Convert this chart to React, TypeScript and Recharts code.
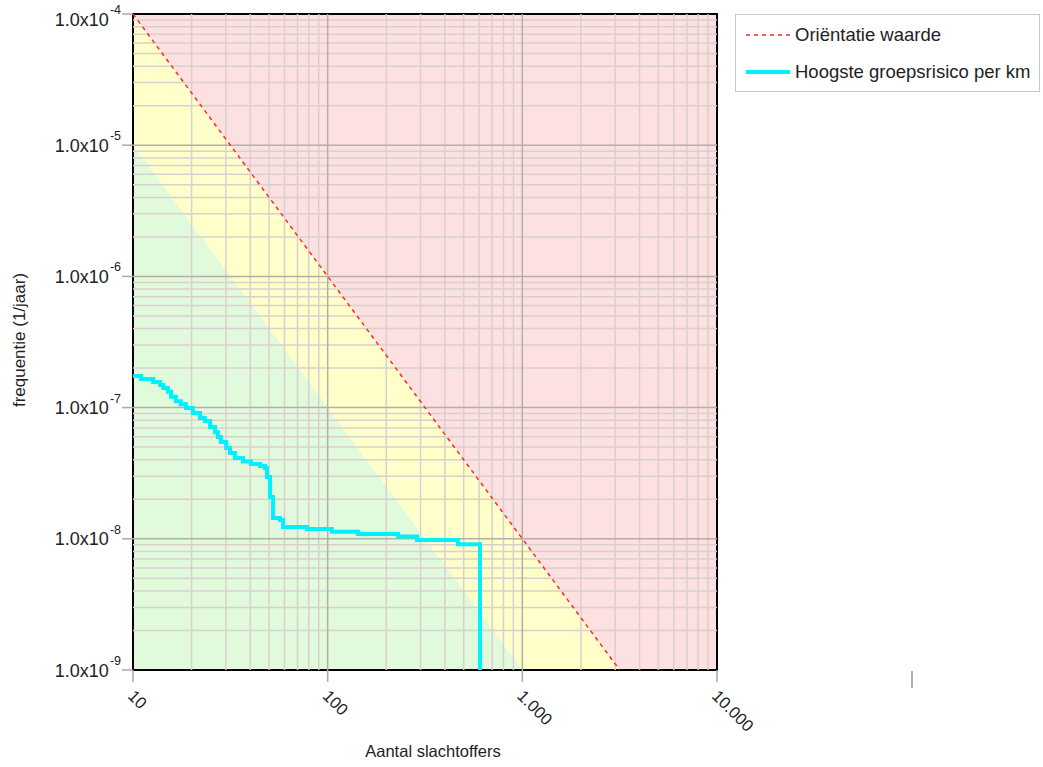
import React from 'react';
import { ComposedChart, Area, Line, XAxis, YAxis, ReferenceLine, ReferenceArea, Label } from 'recharts';

// ---- data ----
const riskN = [10, 11, 12.7, 13.8, 14.3, 15.1, 15.7, 16.6, 17.6, 18.7, 20.3, 22.1, 23.4, 24.9, 26.4, 27.3, 28.3, 30.1, 31.5, 33.4, 36.7, 40.4, 44.9, 47.6, 48.8, 50.6, 52.4, 56.9, 59, 78.4, 105, 143, 230, 288, 467, 606];
const riskF = [1.74e-7, 1.65e-7, 1.57e-7, 1.49e-7, 1.41e-7, 1.32e-7, 1.21e-7, 1.12e-7, 1.06e-7, 9.93e-8, 9.1e-8, 8.34e-8, 7.9e-8, 7.1e-8, 6.5e-8, 5.97e-8, 5.47e-8, 4.92e-8, 4.51e-8, 4.13e-8, 3.88e-8, 3.71e-8, 3.59e-8, 3.47e-8, 2.96e-8, 2.08e-8, 1.44e-8, 1.39e-8, 1.23e-8, 1.19e-8, 1.13e-8, 1.09e-8, 1.04e-8, 9.8e-9, 9.1e-9, 1e-9];
const orientN = [10, 3162.28];
const orientF = [1e-4, 1e-9];
const greenN = [10, 1000];
const greenF = [1e-5, 1e-9];
const pinkN = [10, 10000];
const pinkF = [1e-4, 1e-4];

const xTicks = [10, 100, 1000, 10000];
const xTickLabels = ['10', '100', '1.000', '10.000'];
const yTicks = [1e-9, 1e-8, 1e-7, 1e-6, 1e-5, 1e-4];
const xMinor = [20, 30, 40, 50, 60, 70, 80, 90, 200, 300, 400, 500, 600, 700, 800, 900, 2000, 3000, 4000, 5000, 6000, 7000, 8000, 9000];
const xMajor = [100, 1000];
const yMajor = [1e-8, 1e-7, 1e-6, 1e-5];
const yMinorMult = [2, 3, 4, 5, 6, 7, 8, 9];
const yDecades = [1e-9, 1e-8, 1e-7, 1e-6, 1e-5];

const seriesNames = ['Oriëntatie waarde', 'Hoogste groepsrisico per km'];
const xTitle = 'Aantal slachtoffers';
const yTitle = 'frequentie (1/jaar)';

const FONT = '"Liberation Sans", Arial, sans-serif';
const C_PINK = '#fde1e1';
const C_YELLOW = '#ffffca';
const C_GREEN = '#e1fadc';
const C_MINOR = '#dacfcf';
const C_MAJOR = '#b6aea6';
const C_RED = '#ff2a2a';
const C_CYAN = '#00f0ff';

const yMinor: number[] = [];
yDecades.forEach((d) => yMinorMult.forEach((m) => yMinor.push(d * m)));

const allN = Array.from(new Set([...riskN, ...orientN, ...greenN, ...pinkN])).sort((a, b) => a - b);
const pick = (ns: number[], fs: number[], n: number) => {
  const i = ns.indexOf(n);
  return i >= 0 ? fs[i] : null;
};
const data = allN.map((n) => ({
  n,
  risk: pick(riskN, riskF, n),
  orient: pick(orientN, orientF, n),
  green: pick(greenN, greenF, n),
  pink: pick(pinkN, pinkF, n),
}));

const XTick = (props: any) => {
  const { x, y, payload } = props;
  const label = xTickLabels[xTicks.indexOf(payload.value)];
  const ax = x - 6;
  const ay = y + 13;
  return (
    <text x={ax} y={ay} transform={`rotate(45, ${ax}, ${ay})`} textAnchor="start" fontFamily={FONT} fontSize={16.5} fill="#222">
      {label}
    </text>
  );
};

const YTick = (props: any) => {
  const { x, y, payload } = props;
  const exp = Math.round(Math.log10(payload.value));
  // keep the topmost label inside the picture
  const shift = exp === -4 ? 5 : 0;
  return (
    <text x={x + 1} y={y + 6.5 + shift} textAnchor="end" fontFamily={FONT} fill="#222">
      <tspan fontSize={18}>1.0x10</tspan>
      <tspan fontSize={12.5} dy={-11.5} dx={1}>{`${exp}`}</tspan>
    </text>
  );
};

export default function App() {
  return (
    <div style={{ position: 'absolute', left: 0, top: 0, width: 1043, height: 767, background: '#fff' }}>
      <div style={{ position: 'absolute', left: 0, top: 0 }}>
        <ComposedChart width={1043} height={767} data={data} margin={{ top: 14, right: 326, bottom: 37, left: 0 }}>
          <XAxis
            dataKey="n"
            type="number"
            scale="log"
            domain={[10, 10000]}
            ticks={xTicks}
            allowDataOverflow
            interval={0}
            height={60}
            tickSize={12}
            axisLine={false}
            tickLine={{ stroke: '#a9a9a9', strokeWidth: 1.5 }}
            tick={<XTick />}
          >
            <Label
              content={(p: any) => {
                const vb = p.viewBox || { x: 133, y: 670, width: 584 };
                return (
                  <text x={vb.x + vb.width / 2 + 8} y={vb.y + 87} textAnchor="middle" fontFamily={FONT} fontSize={16.5} fill="#222">
                    {xTitle}
                  </text>
                );
              }}
            />
          </XAxis>
          <YAxis
            type="number"
            scale="log"
            domain={[1e-9, 1e-4]}
            ticks={yTicks}
            allowDataOverflow
            interval={0}
            width={133}
            tickSize={11}
            axisLine={false}
            tickLine={{ stroke: '#a9a9a9', strokeWidth: 1.5 }}
            tick={<YTick />}
          >
            <Label
              content={(p: any) => {
                const vb = p.viewBox || { x: 0, y: 14, height: 656 };
                const cx = vb.x + 19;
                const cy = vb.y + vb.height / 2 - 2;
                return (
                  <text x={cx} y={cy} transform={`rotate(-90, ${cx}, ${cy})`} textAnchor="middle" dominantBaseline="central" fontFamily={FONT} fontSize={17} fill="#222">
                    {yTitle}
                  </text>
                );
              }}
            />
          </YAxis>

          <Area dataKey="pink" type="linear" baseValue={1e-9} fill={C_PINK} fillOpacity={1} stroke="none" connectNulls isAnimationActive={false} dot={false} activeDot={false} />
          <Area dataKey="orient" type="linear" baseValue={1e-9} fill={C_YELLOW} fillOpacity={1} stroke="none" connectNulls isAnimationActive={false} dot={false} activeDot={false} />
          <Area dataKey="green" type="linear" baseValue={1e-9} fill={C_GREEN} fillOpacity={1} stroke="none" connectNulls isAnimationActive={false} dot={false} activeDot={false} />

          {xMinor.map((v) => (
            <ReferenceLine key={`xm${v}`} x={v} stroke={C_MINOR} strokeWidth={1.5} />
          ))}
          {yMinor.map((v) => (
            <ReferenceLine key={`ym${v}`} y={v} stroke={C_MINOR} strokeWidth={1.5} />
          ))}
          {xMajor.map((v) => (
            <ReferenceLine key={`xM${v}`} x={v} stroke={C_MAJOR} strokeWidth={1.5} />
          ))}
          {yMajor.map((v) => (
            <ReferenceLine key={`yM${v}`} y={v} stroke={C_MAJOR} strokeWidth={1.5} />
          ))}

          <Line dataKey="orient" type="linear" stroke={C_RED} strokeWidth={1.5} strokeDasharray="4 4" connectNulls dot={false} activeDot={false} isAnimationActive={false} />
          <Line dataKey="risk" type="stepAfter" stroke={C_CYAN} strokeWidth={4} connectNulls dot={false} activeDot={false} isAnimationActive={false} />

          <ReferenceArea x1={10} x2={10000} y1={1e-9} y2={1e-4} fill="none" stroke="#000" strokeWidth={2} ifOverflow="visible" />
        </ComposedChart>
      </div>

      <div
        style={{
          position: 'absolute',
          left: 735,
          top: 14,
          width: 305,
          height: 78,
          boxSizing: 'border-box',
          border: '1.5px solid #cfc8c0',
          background: '#fff',
          fontFamily: FONT,
          fontSize: 18.5,
          color: '#222',
        }}
      >
        <svg width={60} height={78} style={{ position: 'absolute', left: 0, top: 0 }}>
          <line x1={10} x2={54} y1={20} y2={20} stroke={C_RED} strokeWidth={1.5} strokeDasharray="4 4" />
          <line x1={10} x2={54} y1={57} y2={57} stroke={C_CYAN} strokeWidth={4} />
        </svg>
        <div style={{ position: 'absolute', left: 59, top: 20, transform: 'translateY(-50%)', whiteSpace: 'nowrap', lineHeight: 1 }}>{seriesNames[0]}</div>
        <div style={{ position: 'absolute', left: 59, top: 57, transform: 'translateY(-50%)', whiteSpace: 'nowrap', lineHeight: 1 }}>{seriesNames[1]}</div>
      </div>

      <div style={{ position: 'absolute', left: 911, top: 671, width: 2, height: 17, background: '#b0b0b0' }} />
    </div>
  );
}
